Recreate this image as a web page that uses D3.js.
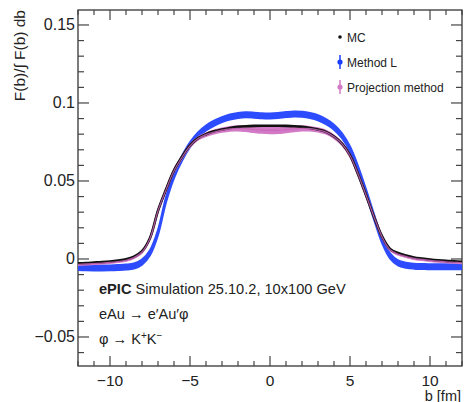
<!DOCTYPE html>
<html><head><meta charset="utf-8">
<script src="https://cdn.jsdelivr.net/npm/d3@7"></script>
<style>
html,body{margin:0;padding:0;background:#fff;}
svg{display:block;font-family:"Liberation Sans",Arial,Helvetica,sans-serif;}
</style></head>
<body><svg id="c" width="465" height="402"></svg>
<script>
const bValues = [-12,-11.5,-11,-10.5,-10,-9.5,-9,-8.5,-8,-7.5,-7,-6.5,-6,-5.5,-5,-4.5,-4,-3.5,-3,-2.5,-2,-1.5,-1,-0.5,0,0.5,1,1.5,2,2.5,3,3.5,4,4.5,5,5.5,6,6.5,7,7.5,8,8.5,9,9.5,10,10.5,11,11.5,12];
const mcValues = [-0.0028,-0.0026,-0.0023,-0.0020,-0.0016,-0.0010,-0.0002,0.0015,0.0050,0.0135,0.0310,0.0445,0.0568,0.0655,0.0728,0.0775,0.0800,0.0818,0.0830,0.0840,0.0847,0.0851,0.0853,0.0854,0.0854,0.0854,0.0853,0.0851,0.0847,0.0840,0.0830,0.0815,0.0785,0.0740,0.0665,0.0545,0.0410,0.0270,0.0145,0.0065,0.0038,0.0022,0.0010,0.0003,-0.0003,-0.0008,-0.0012,-0.0015,-0.0018];
const methodLValues = [-0.0055,-0.0057,-0.0058,-0.0058,-0.0057,-0.0055,-0.0052,-0.0045,-0.0020,0.0040,0.0170,0.0380,0.0535,0.0645,0.0732,0.0795,0.0840,0.0870,0.0893,0.0910,0.0920,0.0924,0.0922,0.0918,0.0917,0.0920,0.0926,0.0930,0.0928,0.0920,0.0905,0.0880,0.0845,0.0790,0.0705,0.0580,0.0430,0.0270,0.0120,0.0020,-0.0025,-0.0040,-0.0046,-0.0048,-0.0050,-0.0050,-0.0050,-0.0050,-0.0050];
const methodLErr = 0.0016;
const projValues = [-0.0034,-0.0032,-0.0029,-0.0026,-0.0022,-0.0016,-0.0008,0.0009,0.0045,0.0132,0.0308,0.0443,0.0565,0.0652,0.0725,0.0772,0.0797,0.0814,0.0826,0.0834,0.0837,0.0835,0.0830,0.0826,0.0824,0.0825,0.0829,0.0834,0.0837,0.0835,0.0827,0.0813,0.0783,0.0738,0.0663,0.0545,0.0410,0.0270,0.0143,0.0060,0.0032,0.0016,0.0004,-0.0003,-0.0009,-0.0014,-0.0018,-0.0021,-0.0024];
const projErr = [0.0005,0.0005,0.0005,0.0005,0.0005,0.0005,0.0005,0.0005,0.0006,0.0006,0.0007,0.0007,0.0008,0.0008,0.0009,0.0009,0.0010,0.0011,0.0012,0.0013,0.0015,0.0017,0.0018,0.0019,0.0019,0.0019,0.0018,0.0017,0.0015,0.0013,0.0012,0.0011,0.0010,0.0009,0.0009,0.0008,0.0008,0.0007,0.0007,0.0006,0.0006,0.0005,0.0005,0.0005,0.0005,0.0005,0.0005,0.0005,0.0005];
const xTicks = [-10,-5,0,5,10];
const yTicks = [-0.05,0,0.05,0.1,0.15];
const yTickLabels = ["\u22120.05","0","0.05","0.1","0.15"];
const xTickLabels = ["\u221210","\u22125","0","5","10"];
const legendLabels = ["MC","Method L","Projection method"];

const svg = d3.select("#c");
const L=78, R=462, T=10, B=366;
const x = d3.scaleLinear().domain([-12,12]).range([L,R]);
const y = d3.scaleLinear().domain([-0.0686,0.1596]).range([B,T]);
const axisCol="#444", txtCol="#222";

svg.append("rect").attr("x",L).attr("y",T).attr("width",R-L).attr("height",B-T)
  .attr("fill","none").attr("stroke",axisCol).attr("stroke-width",1.4);

const xMinor = d3.range(-12,12.01,1);
const yMinor = d3.range(-0.06,0.1601,0.01);
const g = svg.append("g").attr("stroke",axisCol).attr("stroke-width",1.2);
xMinor.forEach(v=>{
  const major = xTicks.some(t=>Math.abs(t-v)<1e-6);
  const len = major?10:5;
  g.append("line").attr("x1",x(v)).attr("x2",x(v)).attr("y1",B).attr("y2",B-len);
  g.append("line").attr("x1",x(v)).attr("x2",x(v)).attr("y1",T).attr("y2",T+len);
});
yMinor.forEach(v=>{
  if (y(v)<T-0.5||y(v)>B+0.5) return;
  const major = yTicks.some(t=>Math.abs(t-v)<1e-6);
  const len = major?11:6;
  g.append("line").attr("y1",y(v)).attr("y2",y(v)).attr("x1",L).attr("x2",L+len);
  g.append("line").attr("y1",y(v)).attr("y2",y(v)).attr("x1",R).attr("x2",R-len);
});

xTicks.forEach((v,i)=>{
  svg.append("text").attr("x",x(v)).attr("y",385.5).attr("text-anchor","middle")
    .attr("font-size",15.5).attr("fill",txtCol).text(xTickLabels[i]);
});
yTicks.forEach((v,i)=>{
  svg.append("text").attr("x",75).attr("y",y(v)+5.5).attr("text-anchor","end")
    .attr("font-size",16).attr("fill",txtCol).text(yTickLabels[i]);
});

svg.append("text").attr("transform","translate(25,10) rotate(-90)").attr("text-anchor","end")
  .attr("font-size",15.5).attr("fill",txtCol).text("F(b)/\u222B F(b) db");
svg.append("text").attr("x",461).attr("y",400.5).attr("text-anchor","end")
  .attr("font-size",14.5).attr("fill",txtCol).text("b [fm]");

svg.append("clipPath").attr("id","cp").append("rect").attr("x",L).attr("y",T).attr("width",R-L).attr("height",B-T);
const plot = svg.append("g").attr("clip-path","url(#cp)");
const curve = d3.curveCatmullRom;
const idx = d3.range(bValues.length);

const area = (vals, err) => d3.area().curve(curve)
  .x(i=>x(bValues[i])).y0(i=>y(vals[i]-(typeof err==="number"?err:err[i])))
  .y1(i=>y(vals[i]+(typeof err==="number"?err:err[i])));
const line = vals => d3.line().curve(curve).x(i=>x(bValues[i])).y(i=>y(vals[i]));

plot.append("path").attr("d",area(methodLValues,methodLErr)(idx)).attr("fill","#2d4cff").attr("stroke","#2d4cff").attr("stroke-width",2);
plot.append("path").attr("d",area(projValues,projErr)(idx)).attr("fill","#d37ac6").attr("stroke","#d37ac6").attr("stroke-width",1.5);
plot.append("path").attr("d",line(mcValues)(idx)).attr("fill","none").attr("stroke","#111").attr("stroke-width",2.6);
plot.append("path").attr("d",line(projValues)(idx)).attr("fill","none").attr("stroke","#c865b8").attr("stroke-width",1.2).attr("stroke-opacity",0.85);

const legY=[37,62,87];
const legCol=["#111","#1a3cff","#d37ac6"];
legendLabels.forEach((t,i)=>{
  const lx=340;
  if(i>0) svg.append("line").attr("x1",lx).attr("x2",lx).attr("y1",legY[i]-7).attr("y2",legY[i]+7).attr("stroke",legCol[i]).attr("stroke-width",1.5);
  svg.append("circle").attr("cx",lx).attr("cy",legY[i]).attr("r",i===0?1.8:2.6).attr("fill",legCol[i]);
  svg.append("text").attr("x",347).attr("y",legY[i]+4.5).attr("font-size",12).attr("fill",txtCol).text(t);
});

const ann = svg.append("text").attr("x",99).attr("y",294).attr("font-size",14.6).attr("fill",txtCol);
ann.append("tspan").attr("font-weight","bold").text("ePIC");
ann.append("tspan").text(" Simulation 25.10.2, 10x100 GeV");
svg.append("text").attr("x",99).attr("y",319).attr("font-size",14.6).attr("fill",txtCol).text("eAu \u2192 e\u2032Au\u2032\u03C6");
const t3 = svg.append("text").attr("x",99).attr("y",344).attr("font-size",14.6).attr("fill",txtCol);
t3.append("tspan").text("\u03C6 \u2192 K");
t3.append("tspan").attr("dy",-5).attr("font-size",10).text("+");
t3.append("tspan").attr("dy",5).text("K");
t3.append("tspan").attr("dy",-5).attr("font-size",10).text("\u2212");
</script></body></html>
